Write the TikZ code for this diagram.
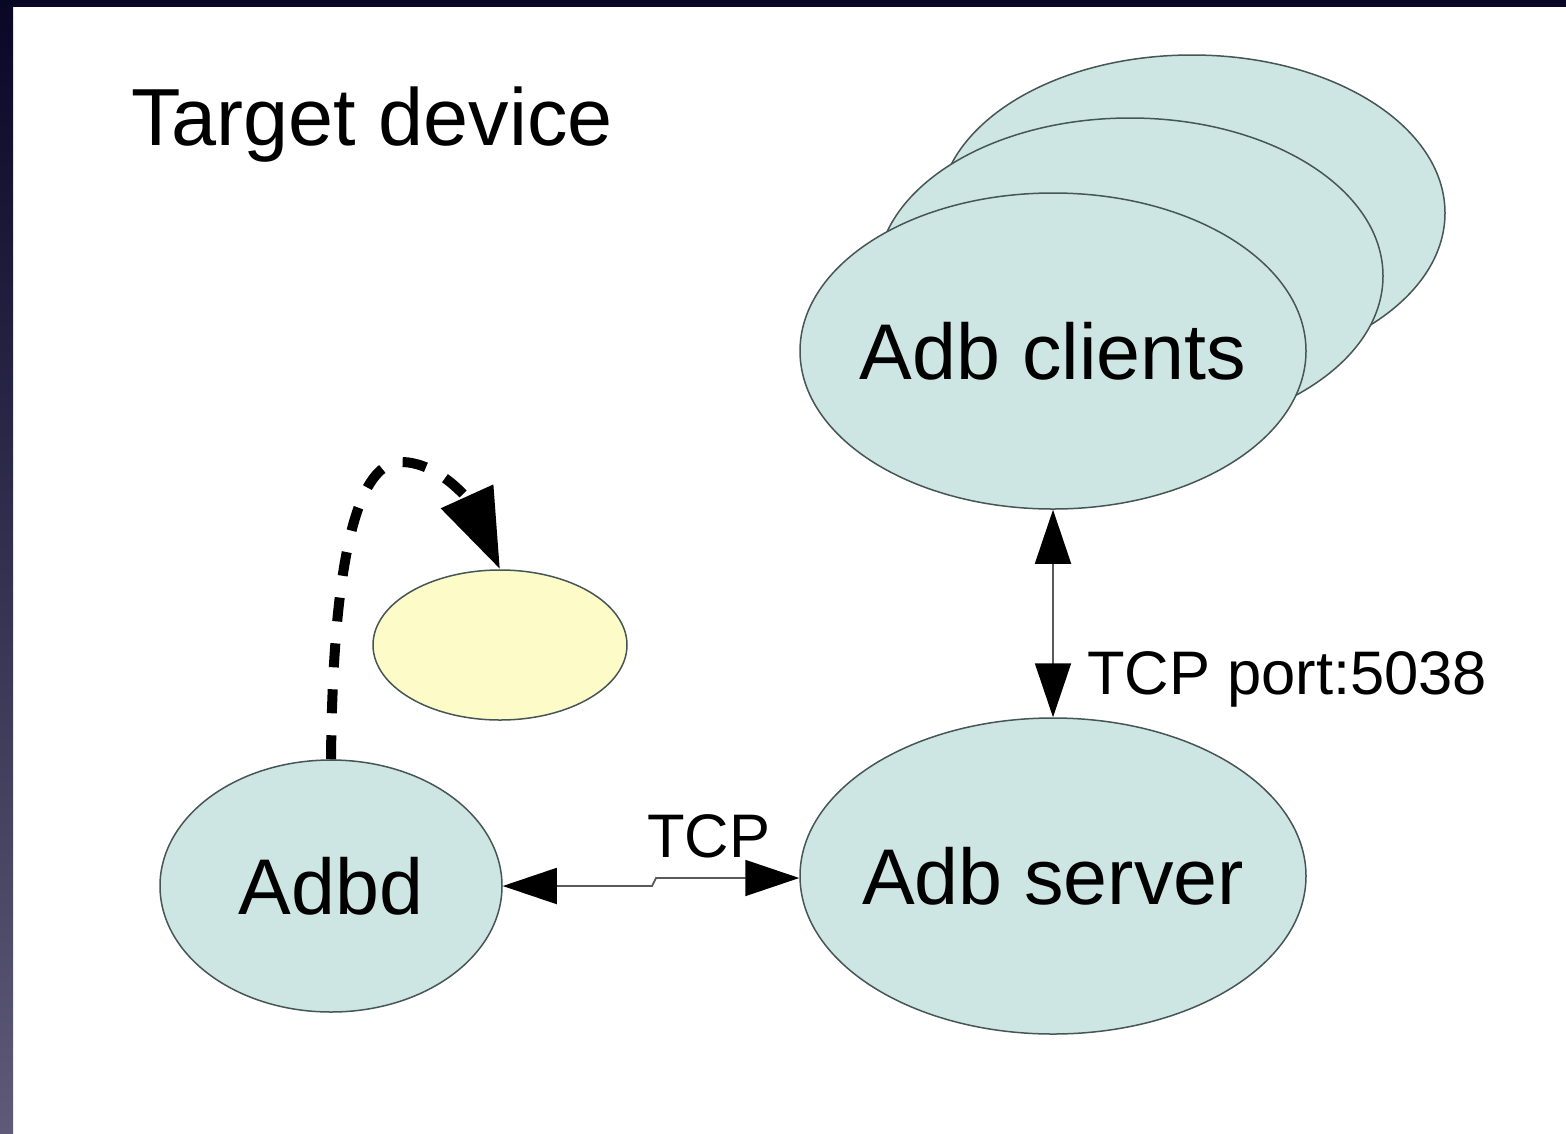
\documentclass[tikz,border=0pt]{standalone}
\usepackage{fontspec}
\setmainfont{Liberation Sans}
\usetikzlibrary{shapes.geometric,arrows.meta}
\definecolor{nodefill}{RGB}{205,230,228}
\definecolor{nodeline}{RGB}{70,85,85}
\definecolor{yellowfill}{RGB}{253,252,200}
\definecolor{navytop}{RGB}{8,8,38}
\definecolor{navybot}{RGB}{94,90,120}
\definecolor{connline}{RGB}{90,90,90}
\begin{document}
\begin{tikzpicture}[x=1pt,y=-1pt,
  proc/.style={ellipse, draw=nodeline, line width=1.5pt, fill=nodefill, inner sep=0pt},
  bigell/.style={proc, minimum width=506pt, minimum height=316pt},
  bigtxt/.style={inner sep=0pt, font=\fontsize{79}{90}\selectfont},
  smalltxt/.style={inner sep=0pt, anchor=base west, font=\fontsize{61.5}{70}\selectfont},
  biconn/.style={draw=connline, line width=1.8pt,
    {Triangle[length=54pt,width=36pt,color=black]}-{Triangle[length=54pt,width=36pt,color=black]}},
  loopconn/.style={draw=black, line width=10pt, dash pattern=on 24pt off 22pt,
    -{Triangle[length=80pt,width=55pt,color=black]}}
]
\useasboundingbox (0,0) rectangle (1566,1133);
\fill[white] (0,0) rectangle (1566,1133);
\shade[top color=navytop, bottom color=navybot] (0,0) rectangle (13,1133);
\fill[navytop] (0,0) rectangle (1566,7);

% title
\node[inner sep=0pt, anchor=base west, font=\fontsize{81}{92}\selectfont] (title) at (131,145) {Target device};

% adb clients stack
\node[bigell] (clients3) at (1192,213) {};
\node[bigell] (clients2) at (1130,276) {};
\node[bigell] (clients) at (1053,351) {};
\node[bigtxt] (clientstxt) at (clients.center) {Adb clients};

% adb server
\node[bigell] (server) at (1053,876) {};
\node[bigtxt] (servertxt) at (server.center) {Adb server};

% adbd
\node[proc, minimum width=342pt, minimum height=252pt] (adbd) at (331,886) {};
\node[bigtxt] (adbdtxt) at (adbd.center) {Adbd};

% yellow process
\node[proc, fill=yellowfill, minimum width=254pt, minimum height=150pt] (yellow) at (500,645) {};

% connectors
\coordinate (h1) at (652,886);
\coordinate (h2) at (656,878);
\draw[biconn] (adbd.east) -- (h1) -- (h2) -- (server.west |- h2);
\node[smalltxt] (tcp) at (647,857) {TCP};

\draw[biconn] (clients.south) -- (server.north);
\node[smalltxt] (port) at (1087,694) {TCP port:5038};

\draw[loopconn] (adbd.north) .. controls (333,540) and (362,462) .. (401,462)
  .. controls (440,462) and (470,503) .. (yellow.north);
\end{tikzpicture}
\end{document}
